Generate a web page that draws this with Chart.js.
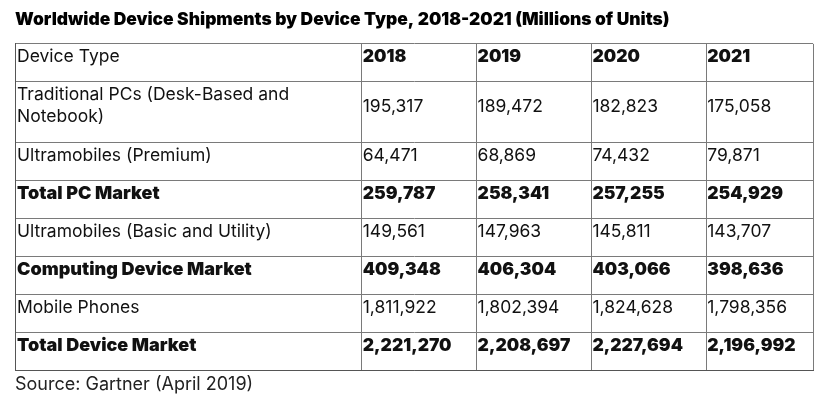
<!DOCTYPE html>
<html>
<head>
<meta charset="utf-8">
<script src="https://cdn.jsdelivr.net/npm/chart.js@4"></script>
<style>
  body { margin: 0; background: #fff; }
</style>
</head>
<body>
<canvas id="tableChart" width="837" height="404"></canvas>
<script>
const years = ["2018", "2019", "2020", "2021"];
const deviceTypes = [
  "Traditional PCs (Desk-Based and\nNotebook)",
  "Ultramobiles (Premium)",
  "Total PC Market",
  "Ultramobiles (Basic and Utility)",
  "Computing Device Market",
  "Mobile Phones",
  "Total Device Market",
];
const totalRows = [false, false, true, false, true, false, true];

const traditionalPCs = [195317, 189472, 182823, 175058];
const ultramobilesPremium = [64471, 68869, 74432, 79871];
const totalPCMarket = [259787, 258341, 257255, 254929];
const ultramobilesBasic = [149561, 147963, 145811, 143707];
const computingDeviceMarket = [409348, 406304, 403066, 398636];
const mobilePhones = [1811922, 1802394, 1824628, 1798356];
const totalDeviceMarket = [2221270, 2208697, 2227694, 2196992];

const rowValues = [
  traditionalPCs,
  ultramobilesPremium,
  totalPCMarket,
  ultramobilesBasic,
  computingDeviceMarket,
  mobilePhones,
  totalDeviceMarket,
];

// layout of the grid, in scale units
const colWidths = [3.02, 1, 1, 1, 0.93];
const rowHeights = [1, 1.6, 1, 1, 1, 1, 1, 1];

function edges(sizes) {
  let acc = 0;
  const out = [0];
  sizes.forEach((s) => {
    acc += s;
    out.push(+acc.toFixed(4));
  });
  return out;
}
const colEdges = edges(colWidths);
const rowEdges = edges(rowHeights);

const fontFamily = "Inter, 'Open Sans', sans-serif";

const cellText = {
  id: "cellText",
  afterDraw(chart) {
    const ctx = chart.ctx;
    const xs = chart.scales.x;
    const ys = chart.scales.y;
    ctx.save();
    ctx.fillStyle = "#111";
    ctx.textBaseline = "middle";
    ctx.textAlign = "left";

    const drawRow = (r, label, values, bold, headerBold) => {
      const top = ys.getPixelForValue(rowEdges[r]);
      const lines = label.split("\n");
      ctx.font = (bold ? "900 18px " : "400 17.5px ") + fontFamily;
      lines.forEach((line, i) => {
        ctx.fillText(line, xs.getPixelForValue(colEdges[0]) + 2, top + 13 + i * 22);
      });
      const midY = top + 13 + ((lines.length - 1) * 22) / 2 + (lines.length > 1 ? 1 : 0);
      ctx.font = (bold || headerBold ? "900 17.5px " : "400 17.5px ") + fontFamily;
      values.forEach((v, c) => {
        ctx.fillText(v, xs.getPixelForValue(colEdges[c + 1]) + 1, midY);
      });
    };

    drawRow(0, "Device Type", years, false, true);
    deviceTypes.forEach((name, i) => {
      drawRow(
        i + 1,
        name,
        rowValues[i].map((v) => v.toLocaleString("en-US")),
        totalRows[i],
        false
      );
    });
    ctx.restore();
  },
};

const gridStyle = {
  color: "#7a7a7a",
  lineWidth: 1,
  drawTicks: false,
};

new Chart(document.getElementById("tableChart"), {
  type: "scatter",
  data: { datasets: [{ data: [], pointRadius: 0 }] },
  options: {
    responsive: false,
    animation: false,
    events: [],
    layout: { padding: { left: 15, right: 24, top: 0, bottom: 9 } },
    plugins: {
      legend: { display: false },
      tooltip: { enabled: false },
      title: {
        display: true,
        text: "Worldwide Device Shipments by Device Type, 2018-2021 (Millions of Units)",
        align: "start",
        color: "#000",
        font: { family: fontFamily, size: 17.4, weight: "900" },
        padding: { top: 9, bottom: 14 },
      },
      subtitle: {
        display: true,
        position: "bottom",
        text: "Source: Gartner (April 2019)",
        align: "start",
        color: "#222",
        font: { family: fontFamily, size: 18, weight: "400" },
        padding: { top: 3, bottom: 0 },
      },
    },
    scales: {
      x: {
        type: "linear",
        min: 0,
        max: colEdges[colEdges.length - 1],
        afterBuildTicks: (scale) => {
          scale.ticks = colEdges.map((v) => ({ value: v }));
        },
        ticks: { display: false },
        grid: gridStyle,
        border: { display: true, color: "#555", width: 1 },
      },
      y: {
        type: "linear",
        reverse: true,
        min: 0,
        max: rowEdges[rowEdges.length - 1],
        afterBuildTicks: (scale) => {
          scale.ticks = rowEdges.map((v) => ({ value: v }));
        },
        ticks: { display: false },
        grid: gridStyle,
        border: { display: true, color: "#555", width: 1 },
      },
    },
  },
  plugins: [cellText],
});
</script>
</body>
</html>
